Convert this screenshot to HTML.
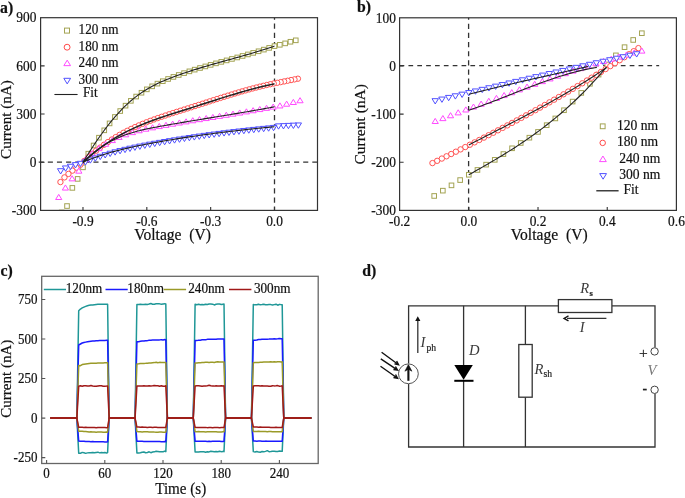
<!DOCTYPE html>
<html><head><meta charset="utf-8"><style>
html,body{margin:0;padding:0;background:#fff;}
body{width:685px;height:498px;overflow:hidden;font-family:"Liberation Serif",serif;}
svg{display:block;filter:blur(0.3px);}
</style></head><body>
<svg width="685" height="498" viewBox="0 0 685 498">
<rect width="685" height="498" fill="#fff"/>
<defs><clipPath id="ca"><rect x="40.6" y="17.7" width="276.9" height="192.7"/></clipPath><clipPath id="cb"><rect x="399.6" y="17.8" width="276.8" height="192.6"/></clipPath></defs>
<g stroke="#333" stroke-width="1.3" fill="none"><path d="M38.7,162.2 H317.5" stroke-dasharray="5.1,4.02"/><path d="M274.5,17.7 V210.4" stroke-dasharray="5.2,3.95" stroke-dashoffset="3.25"/></g>
<g clip-path="url(#ca)"><g fill="#fff" stroke="#a3a352" stroke-width="1"><rect x="293.48" y="38.02" width="4.6" height="4.6"/><rect x="288.16" y="39.46" width="4.6" height="4.6"/><rect x="282.84" y="41.07" width="4.6" height="4.6"/><rect x="277.52" y="42.51" width="4.6" height="4.6"/><rect x="272.2" y="43.8" width="4.6" height="4.6"/><rect x="266.88" y="45.59" width="4.6" height="4.6"/><rect x="261.56" y="47.32" width="4.6" height="4.6"/><rect x="256.24" y="48.98" width="4.6" height="4.6"/><rect x="250.92" y="50.58" width="4.6" height="4.6"/><rect x="245.6" y="52.13" width="4.6" height="4.6"/><rect x="240.28" y="53.65" width="4.6" height="4.6"/><rect x="234.96" y="55.15" width="4.6" height="4.6"/><rect x="229.64" y="56.63" width="4.6" height="4.6"/><rect x="224.32" y="58.1" width="4.6" height="4.6"/><rect x="219" y="59.57" width="4.6" height="4.6"/><rect x="213.68" y="61.06" width="4.6" height="4.6"/><rect x="208.36" y="62.57" width="4.6" height="4.6"/><rect x="203.04" y="64.12" width="4.6" height="4.6"/><rect x="197.72" y="65.7" width="4.6" height="4.6"/><rect x="192.4" y="67.34" width="4.6" height="4.6"/><rect x="187.08" y="69.04" width="4.6" height="4.6"/><rect x="181.76" y="70.82" width="4.6" height="4.6"/><rect x="176.44" y="72.67" width="4.6" height="4.6"/><rect x="171.12" y="74.62" width="4.6" height="4.6"/><rect x="165.8" y="76.68" width="4.6" height="4.6"/><rect x="160.48" y="78.9" width="4.6" height="4.6"/><rect x="155.16" y="81.33" width="4.6" height="4.6"/><rect x="149.84" y="84.03" width="4.6" height="4.6"/><rect x="144.52" y="87.05" width="4.6" height="4.6"/><rect x="139.2" y="90.44" width="4.6" height="4.6"/><rect x="133.88" y="94.25" width="4.6" height="4.6"/><rect x="128.56" y="98.54" width="4.6" height="4.6"/><rect x="123.24" y="103.36" width="4.6" height="4.6"/><rect x="117.92" y="108.74" width="4.6" height="4.6"/><rect x="112.6" y="114.67" width="4.6" height="4.6"/><rect x="107.28" y="121.1" width="4.6" height="4.6"/><rect x="101.96" y="128.02" width="4.6" height="4.6"/><rect x="96.64" y="135.39" width="4.6" height="4.6"/><rect x="91.32" y="143.19" width="4.6" height="4.6"/><rect x="86" y="151.37" width="4.6" height="4.6"/><rect x="80.68" y="165.04" width="4.6" height="4.6"/><rect x="75.36" y="176.6" width="4.6" height="4.6"/><rect x="70.04" y="185.59" width="4.6" height="4.6"/><rect x="64.72" y="203.74" width="4.6" height="4.6"/><rect x="59.4" y="210.16" width="4.6" height="4.6"/></g><g fill="#fff" stroke="#ff4a4a" stroke-width="0.95"><circle cx="297.91" cy="78.7" r="2.7"/><circle cx="294.48" cy="79.38" r="2.7"/><circle cx="291.05" cy="80.06" r="2.7"/><circle cx="287.6" cy="80.75" r="2.7"/><circle cx="284.15" cy="81.43" r="2.7"/><circle cx="280.69" cy="82.12" r="2.7"/><circle cx="277.22" cy="82.81" r="2.7"/><circle cx="273.74" cy="83.5" r="2.7"/><circle cx="270.26" cy="84.23" r="2.7"/><circle cx="266.76" cy="85" r="2.7"/><circle cx="263.26" cy="85.81" r="2.7"/><circle cx="259.75" cy="86.65" r="2.7"/><circle cx="256.22" cy="87.54" r="2.7"/><circle cx="252.69" cy="88.45" r="2.7"/><circle cx="249.16" cy="89.4" r="2.7"/><circle cx="245.61" cy="90.38" r="2.7"/><circle cx="242.05" cy="91.39" r="2.7"/><circle cx="238.49" cy="92.42" r="2.7"/><circle cx="234.91" cy="93.48" r="2.7"/><circle cx="231.33" cy="94.56" r="2.7"/><circle cx="227.73" cy="95.66" r="2.7"/><circle cx="224.13" cy="96.78" r="2.7"/><circle cx="220.52" cy="97.91" r="2.7"/><circle cx="216.9" cy="99.06" r="2.7"/><circle cx="213.27" cy="100.22" r="2.7"/><circle cx="209.64" cy="101.38" r="2.7"/><circle cx="205.99" cy="102.55" r="2.7"/><circle cx="202.33" cy="103.73" r="2.7"/><circle cx="198.67" cy="104.91" r="2.7"/><circle cx="194.99" cy="106.08" r="2.7"/><circle cx="191.31" cy="107.26" r="2.7"/><circle cx="187.62" cy="108.42" r="2.7"/><circle cx="183.92" cy="109.59" r="2.7"/><circle cx="180.21" cy="110.75" r="2.7"/><circle cx="176.49" cy="111.93" r="2.7"/><circle cx="172.76" cy="113.11" r="2.7"/><circle cx="169.02" cy="114.32" r="2.7"/><circle cx="165.27" cy="115.55" r="2.7"/><circle cx="161.51" cy="116.81" r="2.7"/><circle cx="157.74" cy="118.11" r="2.7"/><circle cx="153.97" cy="119.45" r="2.7"/><circle cx="150.18" cy="120.85" r="2.7"/><circle cx="146.39" cy="122.31" r="2.7"/><circle cx="142.58" cy="123.83" r="2.7"/><circle cx="138.77" cy="125.43" r="2.7"/><circle cx="134.94" cy="127.12" r="2.7"/><circle cx="131.11" cy="128.9" r="2.7"/><circle cx="127.27" cy="130.78" r="2.7"/><circle cx="123.41" cy="132.77" r="2.7"/><circle cx="119.55" cy="134.89" r="2.7"/><circle cx="115.68" cy="137.13" r="2.7"/><circle cx="111.8" cy="139.52" r="2.7"/><circle cx="107.91" cy="142.05" r="2.7"/><circle cx="104.01" cy="144.74" r="2.7"/><circle cx="100.09" cy="147.59" r="2.7"/><circle cx="96.17" cy="150.63" r="2.7"/><circle cx="92.24" cy="153.85" r="2.7"/><circle cx="88.3" cy="157.26" r="2.7"/><circle cx="84.35" cy="160.89" r="2.7"/><circle cx="80.39" cy="164.74" r="2.7"/><circle cx="76.42" cy="167.63" r="2.7"/><circle cx="72.44" cy="170.63" r="2.7"/><circle cx="68.45" cy="173.93" r="2.7"/><circle cx="64.45" cy="177.39" r="2.7"/><circle cx="60.44" cy="182.05" r="2.7"/></g><g fill="#fff" stroke="#ff4aff" stroke-width="1"><path d="M300.04,97.66 L303.14,102.76 L296.94,102.76Z"/><path d="M293.33,99.39 L296.43,104.49 L290.23,104.49Z"/><path d="M286.63,101.12 L289.73,106.22 L283.53,106.22Z"/><path d="M279.93,102.85 L283.03,107.95 L276.83,107.95Z"/><path d="M273.22,104 L276.32,109.1 L270.12,109.1Z"/><path d="M266.52,105.25 L269.62,110.35 L263.42,110.35Z"/><path d="M259.82,106.47 L262.92,111.57 L256.72,111.57Z"/><path d="M253.11,107.65 L256.21,112.75 L250.01,112.75Z"/><path d="M246.41,108.81 L249.51,113.91 L243.31,113.91Z"/><path d="M239.71,109.95 L242.81,115.05 L236.61,115.05Z"/><path d="M233,111.07 L236.1,116.17 L229.9,116.17Z"/><path d="M226.3,112.18 L229.4,117.28 L223.2,117.28Z"/><path d="M219.6,113.28 L222.7,118.38 L216.5,118.38Z"/><path d="M212.89,114.38 L215.99,119.48 L209.79,119.48Z"/><path d="M206.19,115.47 L209.29,120.57 L203.09,120.57Z"/><path d="M199.49,116.57 L202.59,121.67 L196.39,121.67Z"/><path d="M192.78,117.68 L195.88,122.78 L189.68,122.78Z"/><path d="M186.08,118.8 L189.18,123.9 L182.98,123.9Z"/><path d="M179.38,119.93 L182.48,125.03 L176.28,125.03Z"/><path d="M172.68,121.09 L175.78,126.19 L169.58,126.19Z"/><path d="M165.97,122.27 L169.07,127.37 L162.87,127.37Z"/><path d="M159.27,123.47 L162.37,128.57 L156.17,128.57Z"/><path d="M152.57,124.73 L155.67,129.83 L149.47,129.83Z"/><path d="M145.86,126.11 L148.96,131.21 L142.76,131.21Z"/><path d="M139.16,127.68 L142.26,132.78 L136.06,132.78Z"/><path d="M132.46,129.53 L135.56,134.63 L129.36,134.63Z"/><path d="M125.75,131.72 L128.85,136.82 L122.65,136.82Z"/><path d="M119.05,134.35 L122.15,139.45 L115.95,139.45Z"/><path d="M112.35,137.49 L115.45,142.59 L109.25,142.59Z"/><path d="M105.64,141.21 L108.74,146.31 L102.54,146.31Z"/><path d="M98.94,145.59 L102.04,150.69 L95.84,150.69Z"/><path d="M92.24,150.71 L95.34,155.81 L89.14,155.81Z"/><path d="M85.53,156.66 L88.63,161.76 L82.43,161.76Z"/><path d="M78.83,168.08 L81.93,173.18 L75.73,173.18Z"/><path d="M72.13,175.75 L75.23,180.85 L69.03,180.85Z"/><path d="M65.42,184.95 L68.52,190.05 L62.32,190.05Z"/><path d="M58.72,194.4 L61.82,199.5 L55.62,199.5Z"/></g><g fill="#fff" stroke="#5050ff" stroke-width="1"><path d="M298.33,128.24 L301.53,122.94 L295.13,122.94Z"/><path d="M293.38,128.47 L296.58,123.17 L290.18,123.17Z"/><path d="M288.43,128.7 L291.63,123.4 L285.23,123.4Z"/><path d="M283.48,128.94 L286.68,123.64 L280.28,123.64Z"/><path d="M278.53,129.17 L281.73,123.87 L275.33,123.87Z"/><path d="M273.57,130.73 L276.77,125.43 L270.37,125.43Z"/><path d="M268.62,131.21 L271.82,125.91 L265.42,125.91Z"/><path d="M263.67,131.69 L266.87,126.39 L260.47,126.39Z"/><path d="M258.72,132.19 L261.92,126.89 L255.52,126.89Z"/><path d="M253.77,132.71 L256.97,127.41 L250.57,127.41Z"/><path d="M248.82,133.23 L252.02,127.93 L245.62,127.93Z"/><path d="M243.86,133.77 L247.06,128.47 L240.66,128.47Z"/><path d="M238.91,134.33 L242.11,129.03 L235.71,129.03Z"/><path d="M233.96,134.9 L237.16,129.6 L230.76,129.6Z"/><path d="M229.01,135.49 L232.21,130.19 L225.81,130.19Z"/><path d="M224.06,136.09 L227.26,130.79 L220.86,130.79Z"/><path d="M219.1,136.71 L222.3,131.41 L215.9,131.41Z"/><path d="M214.15,137.34 L217.35,132.04 L210.95,132.04Z"/><path d="M209.2,138 L212.4,132.7 L206,132.7Z"/><path d="M204.25,138.67 L207.45,133.37 L201.05,133.37Z"/><path d="M199.3,139.37 L202.5,134.07 L196.1,134.07Z"/><path d="M194.34,140.08 L197.54,134.78 L191.14,134.78Z"/><path d="M189.39,140.81 L192.59,135.51 L186.19,135.51Z"/><path d="M184.44,141.56 L187.64,136.26 L181.24,136.26Z"/><path d="M179.49,142.34 L182.69,137.04 L176.29,137.04Z"/><path d="M174.54,143.14 L177.74,137.84 L171.34,137.84Z"/><path d="M169.59,143.96 L172.79,138.66 L166.39,138.66Z"/><path d="M164.63,144.8 L167.83,139.5 L161.43,139.5Z"/><path d="M159.68,145.67 L162.88,140.37 L156.48,140.37Z"/><path d="M154.73,146.56 L157.93,141.26 L151.53,141.26Z"/><path d="M149.78,147.47 L152.98,142.17 L146.58,142.17Z"/><path d="M144.83,148.42 L148.03,143.12 L141.63,143.12Z"/><path d="M139.87,149.4 L143.07,144.1 L136.67,144.1Z"/><path d="M134.92,150.42 L138.12,145.12 L131.72,145.12Z"/><path d="M129.97,151.5 L133.17,146.2 L126.77,146.2Z"/><path d="M125.02,152.64 L128.22,147.34 L121.82,147.34Z"/><path d="M120.07,153.85 L123.27,148.55 L116.87,148.55Z"/><path d="M115.11,155.14 L118.31,149.84 L111.91,149.84Z"/><path d="M110.16,156.53 L113.36,151.23 L106.96,151.23Z"/><path d="M105.21,158.01 L108.41,152.71 L102.01,152.71Z"/><path d="M100.26,159.6 L103.46,154.3 L97.06,154.3Z"/><path d="M95.31,161.31 L98.51,156.01 L92.11,156.01Z"/><path d="M90.36,163.14 L93.56,157.84 L87.16,157.84Z"/><path d="M85.4,165.11 L88.6,159.81 L82.2,159.81Z"/><path d="M80.45,166.61 L83.65,161.31 L77.25,161.31Z"/><path d="M75.5,167.91 L78.7,162.61 L72.3,162.61Z"/><path d="M70.55,169.54 L73.75,164.24 L67.35,164.24Z"/><path d="M65.6,171.25 L68.8,165.95 L62.4,165.95Z"/><path d="M60.64,174 L63.84,168.7 L57.44,168.7Z"/></g></g>
<g fill="none" stroke="#222" stroke-width="1.1">
<path d="M82.98,162.22 L84.59,159.6 L86.2,157.01 L87.81,154.45 L89.42,151.92 L91.03,149.43 L92.64,146.97 L94.25,144.55 L95.86,142.16 L97.46,139.81 L99.07,137.5 L100.68,135.23 L102.29,133 L103.9,130.8 L105.51,128.65 L107.12,126.54 L108.73,124.48 L110.34,122.45 L111.95,120.47 L113.56,118.54 L115.17,116.65 L116.78,114.81 L118.39,113.02 L120,111.28 L121.61,109.58 L123.22,107.94 L124.82,106.35 L126.43,104.81 L128.04,103.32 L129.65,101.88 L131.26,100.5 L132.87,99.16 L134.48,97.87 L136.09,96.62 L137.7,95.41 L139.31,94.25 L140.92,93.13 L142.53,92.05 L144.14,91.01 L145.75,90 L147.36,89.03 L148.97,88.09 L150.58,87.18 L152.18,86.31 L153.79,85.46 L155.4,84.64 L157.01,83.85 L158.62,83.08 L160.23,82.34 L161.84,81.61 L163.45,80.91 L165.06,80.23 L166.67,79.56 L168.28,78.91 L169.89,78.27 L171.5,77.65 L173.11,77.04 L174.72,76.44 L176.33,75.85 L177.94,75.26 L179.54,74.69 L181.15,74.12 L182.76,73.56 L184.37,73.01 L185.98,72.47 L187.59,71.93 L189.2,71.4 L190.81,70.88 L192.42,70.36 L194.03,69.85 L195.64,69.35 L197.25,68.85 L198.86,68.36 L200.47,67.87 L202.08,67.38 L203.69,66.9 L205.3,66.43 L206.9,65.96 L208.51,65.49 L210.12,65.03 L211.73,64.56 L213.34,64.11 L214.95,63.65 L216.56,63.2 L218.17,62.75 L219.78,62.3 L221.39,61.85 L223,61.4 L224.61,60.95 L226.22,60.51 L227.83,60.06 L229.44,59.62 L231.05,59.17 L232.66,58.73 L234.26,58.28 L235.87,57.83 L237.48,57.39 L239.09,56.94 L240.7,56.48 L242.31,56.03 L243.92,55.57 L245.53,55.11 L247.14,54.65 L248.75,54.19 L250.36,53.72 L251.97,53.25 L253.58,52.77 L255.19,52.29 L256.8,51.81 L258.41,51.32 L260.02,50.82 L261.62,50.32 L263.23,49.82 L264.84,49.3 L266.45,48.79 L268.06,48.26 L269.67,47.73 L271.28,47.19 L272.89,46.65 L274.5,46.1"/>
<path d="M82.98,162.69 L84.59,161.16 L86.2,159.67 L87.81,158.2 L89.42,156.78 L91.03,155.38 L92.64,154.01 L94.25,152.68 L95.86,151.38 L97.46,150.11 L99.07,148.87 L100.68,147.65 L102.29,146.47 L103.9,145.31 L105.51,144.18 L107.12,143.08 L108.73,142 L110.34,140.95 L111.95,139.92 L113.56,138.92 L115.17,137.94 L116.78,136.98 L118.39,136.05 L120,135.14 L121.61,134.25 L123.22,133.38 L124.82,132.53 L126.43,131.7 L128.04,130.89 L129.65,130.1 L131.26,129.32 L132.87,128.57 L134.48,127.83 L136.09,127.1 L137.7,126.39 L139.31,125.7 L140.92,125.02 L142.53,124.35 L144.14,123.7 L145.75,123.06 L147.36,122.43 L148.97,121.81 L150.58,121.2 L152.18,120.61 L153.79,120.02 L155.4,119.44 L157.01,118.87 L158.62,118.31 L160.23,117.75 L161.84,117.2 L163.45,116.66 L165.06,116.12 L166.67,115.59 L168.28,115.06 L169.89,114.54 L171.5,114.02 L173.11,113.5 L174.72,112.99 L176.33,112.48 L177.94,111.97 L179.54,111.46 L181.15,110.96 L182.76,110.45 L184.37,109.94 L185.98,109.44 L187.59,108.93 L189.2,108.42 L190.81,107.92 L192.42,107.4 L194.03,106.89 L195.64,106.38 L197.25,105.86 L198.86,105.35 L200.47,104.83 L202.08,104.31 L203.69,103.8 L205.3,103.28 L206.9,102.76 L208.51,102.24 L210.12,101.73 L211.73,101.21 L213.34,100.7 L214.95,100.18 L216.56,99.67 L218.17,99.16 L219.78,98.65 L221.39,98.14 L223,97.63 L224.61,97.13 L226.22,96.63 L227.83,96.13 L229.44,95.64 L231.05,95.15 L232.66,94.66 L234.26,94.18 L235.87,93.7 L237.48,93.22 L239.09,92.75 L240.7,92.28 L242.31,91.82 L243.92,91.36 L245.53,90.9 L247.14,90.46 L248.75,90.01 L250.36,89.58 L251.97,89.15 L253.58,88.72 L255.19,88.3 L256.8,87.89 L258.41,87.49 L260.02,87.09 L261.62,86.7 L263.23,86.31 L264.84,85.94 L266.45,85.57 L268.06,85.21 L269.67,84.86 L271.28,84.51 L272.89,84.18 L274.5,83.85" stroke-width="1.5"/>
<path d="M82.98,162.18 L84.59,160.59 L86.2,159.06 L87.81,157.57 L89.42,156.14 L91.03,154.75 L92.64,153.42 L94.25,152.13 L95.86,150.88 L97.46,149.68 L99.07,148.53 L100.68,147.41 L102.29,146.34 L103.9,145.31 L105.51,144.32 L107.12,143.37 L108.73,142.45 L110.34,141.57 L111.95,140.72 L113.56,139.91 L115.17,139.13 L116.78,138.39 L118.39,137.67 L120,136.98 L121.61,136.33 L123.22,135.7 L124.82,135.09 L126.43,134.51 L128.04,133.96 L129.65,133.43 L131.26,132.92 L132.87,132.43 L134.48,131.97 L136.09,131.52 L137.7,131.09 L139.31,130.67 L140.92,130.28 L142.53,129.89 L144.14,129.52 L145.75,129.16 L147.36,128.82 L148.97,128.48 L150.58,128.16 L152.18,127.84 L153.79,127.53 L155.4,127.22 L157.01,126.92 L158.62,126.62 L160.23,126.33 L161.84,126.04 L163.45,125.75 L165.06,125.46 L166.67,125.17 L168.28,124.89 L169.89,124.61 L171.5,124.32 L173.11,124.04 L174.72,123.76 L176.33,123.49 L177.94,123.21 L179.54,122.93 L181.15,122.66 L182.76,122.39 L184.37,122.12 L185.98,121.84 L187.59,121.57 L189.2,121.31 L190.81,121.04 L192.42,120.77 L194.03,120.5 L195.64,120.24 L197.25,119.97 L198.86,119.71 L200.47,119.44 L202.08,119.18 L203.69,118.91 L205.3,118.65 L206.9,118.39 L208.51,118.12 L210.12,117.86 L211.73,117.6 L213.34,117.34 L214.95,117.07 L216.56,116.81 L218.17,116.55 L219.78,116.28 L221.39,116.02 L223,115.76 L224.61,115.49 L226.22,115.23 L227.83,114.96 L229.44,114.7 L231.05,114.43 L232.66,114.16 L234.26,113.89 L235.87,113.63 L237.48,113.36 L239.09,113.09 L240.7,112.81 L242.31,112.54 L243.92,112.27 L245.53,111.99 L247.14,111.72 L248.75,111.44 L250.36,111.16 L251.97,110.88 L253.58,110.6 L255.19,110.32 L256.8,110.04 L258.41,109.75 L260.02,109.46 L261.62,109.17 L263.23,108.88 L264.84,108.59 L266.45,108.3 L268.06,108 L269.67,107.7 L271.28,107.4 L272.89,107.1 L274.5,106.79"/>
<path d="M82.98,162.19 L84.59,161.51 L86.2,160.85 L87.81,160.2 L89.42,159.57 L91.03,158.95 L92.64,158.34 L94.25,157.75 L95.86,157.18 L97.46,156.61 L99.07,156.06 L100.68,155.52 L102.29,155 L103.9,154.48 L105.51,153.98 L107.12,153.49 L108.73,153.01 L110.34,152.54 L111.95,152.08 L113.56,151.63 L115.17,151.2 L116.78,150.77 L118.39,150.35 L120,149.93 L121.61,149.53 L123.22,149.14 L124.82,148.75 L126.43,148.37 L128.04,148 L129.65,147.64 L131.26,147.28 L132.87,146.93 L134.48,146.58 L136.09,146.24 L137.7,145.91 L139.31,145.58 L140.92,145.25 L142.53,144.93 L144.14,144.62 L145.75,144.31 L147.36,144 L148.97,143.69 L150.58,143.39 L152.18,143.09 L153.79,142.8 L155.4,142.5 L157.01,142.21 L158.62,141.92 L160.23,141.64 L161.84,141.35 L163.45,141.07 L165.06,140.79 L166.67,140.52 L168.28,140.24 L169.89,139.97 L171.5,139.7 L173.11,139.44 L174.72,139.17 L176.33,138.91 L177.94,138.65 L179.54,138.4 L181.15,138.14 L182.76,137.89 L184.37,137.64 L185.98,137.39 L187.59,137.15 L189.2,136.91 L190.81,136.66 L192.42,136.43 L194.03,136.19 L195.64,135.96 L197.25,135.72 L198.86,135.49 L200.47,135.27 L202.08,135.04 L203.69,134.82 L205.3,134.59 L206.9,134.37 L208.51,134.16 L210.12,133.94 L211.73,133.73 L213.34,133.52 L214.95,133.31 L216.56,133.1 L218.17,132.89 L219.78,132.69 L221.39,132.48 L223,132.28 L224.61,132.09 L226.22,131.89 L227.83,131.69 L229.44,131.5 L231.05,131.31 L232.66,131.12 L234.26,130.93 L235.87,130.74 L237.48,130.56 L239.09,130.37 L240.7,130.19 L242.31,130.01 L243.92,129.83 L245.53,129.66 L247.14,129.48 L248.75,129.31 L250.36,129.13 L251.97,128.96 L253.58,128.79 L255.19,128.62 L256.8,128.46 L258.41,128.29 L260.02,128.13 L261.62,127.96 L263.23,127.8 L264.84,127.64 L266.45,127.48 L268.06,127.33 L269.67,127.17 L271.28,127.01 L272.89,126.86 L274.5,126.71"/>
</g>
<rect x="40.6" y="17.7" width="276.9" height="192.7" fill="none" stroke="#333" stroke-width="1.2"/>
<path d="M82.98,210.4 v-3.5 M146.82,210.4 v-3.5 M210.66,210.4 v-3.5 M274.5,210.4 v-3.5 M40.6,65.85 h4 M40.6,114.02 h4 M40.6,162.2 h4" stroke="#333" stroke-width="1.1" fill="none"/>
<text font-family="Liberation Serif, serif" font-size="13.4" fill="#111" stroke="#111" stroke-width="0.2" text-anchor="end" transform="translate(36.4,22.37) scale(1.0,1.08)" xml:space="preserve">900</text>
<text font-family="Liberation Serif, serif" font-size="13.4" fill="#111" stroke="#111" stroke-width="0.2" text-anchor="end" transform="translate(36.4,70.55) scale(1.0,1.08)" xml:space="preserve">600</text>
<text font-family="Liberation Serif, serif" font-size="13.4" fill="#111" stroke="#111" stroke-width="0.2" text-anchor="end" transform="translate(36.4,118.72) scale(1.0,1.08)" xml:space="preserve">300</text>
<text font-family="Liberation Serif, serif" font-size="13.4" fill="#111" stroke="#111" stroke-width="0.2" text-anchor="end" transform="translate(36.4,166.9) scale(1.0,1.08)" xml:space="preserve">0</text>
<text font-family="Liberation Serif, serif" font-size="13.4" fill="#111" stroke="#111" stroke-width="0.2" text-anchor="end" transform="translate(36.4,215.07) scale(1.0,1.08)" xml:space="preserve">-300</text>
<text font-family="Liberation Serif, serif" font-size="13.4" fill="#111" stroke="#111" stroke-width="0.2" text-anchor="middle" transform="translate(82.98,226) scale(1.0,1.08)" xml:space="preserve">-0.9</text>
<text font-family="Liberation Serif, serif" font-size="13.4" fill="#111" stroke="#111" stroke-width="0.2" text-anchor="middle" transform="translate(146.82,226) scale(1.0,1.08)" xml:space="preserve">-0.6</text>
<text font-family="Liberation Serif, serif" font-size="13.4" fill="#111" stroke="#111" stroke-width="0.2" text-anchor="middle" transform="translate(210.66,226) scale(1.0,1.08)" xml:space="preserve">-0.3</text>
<text font-family="Liberation Serif, serif" font-size="13.4" fill="#111" stroke="#111" stroke-width="0.2" text-anchor="middle" transform="translate(274.5,226) scale(1.0,1.08)" xml:space="preserve">0.0</text>
<text font-family="Liberation Serif, serif" font-size="15.6" fill="#111" stroke="#111" stroke-width="0.2" transform="translate(134.2,240.3) scale(1.0,1.04)" xml:space="preserve">Voltage  (V)</text>
<text font-family="Liberation Serif, serif" font-size="15.2" fill="#111" stroke="#111" stroke-width="0.2" text-anchor="middle" transform="translate(11.2,119.5) rotate(-90)" xml:space="preserve">Current (nA)</text>
<text font-family="Liberation Serif, serif" font-size="15.8" fill="#111" stroke="#111" stroke-width="0.2" font-weight="bold" transform="translate(0,13.2) scale(1.0,1.05)" xml:space="preserve">a)</text>
<g fill="none" stroke-width="1"><g stroke="#a3a352"><rect x="64.5" y="28.1" width="5" height="5"/></g><g stroke="#ff4a4a"><circle cx="67.1" cy="47.2" r="2.95"/></g><g stroke="#ff4aff"><path d="M67.2,60.15 L70.55,65.65 L63.85,65.65Z"/></g><g stroke="#5050ff"><path d="M67.2,83.9 L70.6,78.3 L63.8,78.3Z"/></g></g><path d="M54.4,94.5 H77.6" stroke="#222" stroke-width="1.1"/>
<text font-family="Liberation Serif, serif" font-size="13.2" fill="#111" stroke="#111" stroke-width="0.2" transform="translate(78.6,34.1) scale(1.0,1.1)" xml:space="preserve">120 nm</text>
<text font-family="Liberation Serif, serif" font-size="13.2" fill="#111" stroke="#111" stroke-width="0.2" transform="translate(78.6,50.5) scale(1.0,1.1)" xml:space="preserve">180 nm</text>
<text font-family="Liberation Serif, serif" font-size="13.2" fill="#111" stroke="#111" stroke-width="0.2" transform="translate(78.6,67.3) scale(1.0,1.1)" xml:space="preserve">240 nm</text>
<text font-family="Liberation Serif, serif" font-size="13.2" fill="#111" stroke="#111" stroke-width="0.2" transform="translate(78.6,83.6) scale(1.0,1.1)" xml:space="preserve">300 nm</text>
<text font-family="Liberation Serif, serif" font-size="13.2" fill="#111" stroke="#111" stroke-width="0.2" transform="translate(83,97.4) scale(1.0,1.1)" xml:space="preserve">Fit</text>
<g stroke="#333" stroke-width="1.3" fill="none"><path d="M399.6,65.65 H659.15" stroke-dasharray="4.7,4.15"/><path d="M468.6,17.8 V210.4" stroke-dasharray="5.2,3.95" stroke-dashoffset="3.25"/></g>
<g clip-path="url(#cb)"><g fill="#fff" stroke="#a3a352" stroke-width="1"><rect x="639.55" y="30.91" width="4.6" height="4.6"/><rect x="630.9" y="37.65" width="4.6" height="4.6"/><rect x="622.25" y="44.87" width="4.6" height="4.6"/><rect x="613.59" y="53.06" width="4.6" height="4.6"/><rect x="604.94" y="62.21" width="4.6" height="4.6"/><rect x="596.29" y="72.32" width="4.6" height="4.6"/><rect x="587.63" y="81.47" width="4.6" height="4.6"/><rect x="578.98" y="90.61" width="4.6" height="4.6"/><rect x="570.33" y="99.28" width="4.6" height="4.6"/><rect x="561.68" y="107.95" width="4.6" height="4.6"/><rect x="553.03" y="116.13" width="4.6" height="4.6"/><rect x="544.37" y="122.87" width="4.6" height="4.6"/><rect x="535.72" y="129.62" width="4.6" height="4.6"/><rect x="527.07" y="135.39" width="4.6" height="4.6"/><rect x="518.42" y="140.69" width="4.6" height="4.6"/><rect x="509.76" y="145.99" width="4.6" height="4.6"/><rect x="501.11" y="151.76" width="4.6" height="4.6"/><rect x="492.46" y="157.54" width="4.6" height="4.6"/><rect x="483.81" y="162.36" width="4.6" height="4.6"/><rect x="475.15" y="167.65" width="4.6" height="4.6"/><rect x="466.5" y="172.47" width="4.6" height="4.6"/><rect x="457.85" y="177.77" width="4.6" height="4.6"/><rect x="449.19" y="183.06" width="4.6" height="4.6"/><rect x="440.54" y="188.36" width="4.6" height="4.6"/><rect x="431.89" y="193.65" width="4.6" height="4.6"/></g><g fill="#fff" stroke="#ff4a4a" stroke-width="0.95"><circle cx="638.39" cy="48.13" r="2.7"/><circle cx="633.71" cy="51.19" r="2.7"/><circle cx="629.03" cy="54.23" r="2.7"/><circle cx="624.35" cy="57.24" r="2.7"/><circle cx="619.67" cy="60.23" r="2.7"/><circle cx="614.99" cy="63.2" r="2.7"/><circle cx="610.31" cy="66.14" r="2.7"/><circle cx="605.63" cy="69.06" r="2.7"/><circle cx="600.95" cy="71.95" r="2.7"/><circle cx="596.27" cy="74.83" r="2.7"/><circle cx="591.59" cy="77.67" r="2.7"/><circle cx="586.91" cy="80.5" r="2.7"/><circle cx="582.23" cy="83.31" r="2.7"/><circle cx="577.55" cy="86.09" r="2.7"/><circle cx="572.87" cy="88.85" r="2.7"/><circle cx="568.19" cy="91.59" r="2.7"/><circle cx="563.51" cy="94.31" r="2.7"/><circle cx="558.83" cy="97.01" r="2.7"/><circle cx="554.15" cy="99.69" r="2.7"/><circle cx="549.46" cy="102.34" r="2.7"/><circle cx="544.78" cy="104.98" r="2.7"/><circle cx="540.1" cy="107.6" r="2.7"/><circle cx="535.42" cy="110.2" r="2.7"/><circle cx="530.74" cy="112.78" r="2.7"/><circle cx="526.06" cy="115.34" r="2.7"/><circle cx="521.38" cy="117.88" r="2.7"/><circle cx="516.7" cy="120.41" r="2.7"/><circle cx="512.02" cy="122.91" r="2.7"/><circle cx="507.34" cy="125.4" r="2.7"/><circle cx="502.66" cy="127.88" r="2.7"/><circle cx="497.98" cy="130.33" r="2.7"/><circle cx="493.3" cy="132.77" r="2.7"/><circle cx="488.62" cy="135.19" r="2.7"/><circle cx="483.94" cy="137.6" r="2.7"/><circle cx="479.26" cy="139.99" r="2.7"/><circle cx="474.58" cy="142.36" r="2.7"/><circle cx="469.9" cy="144.72" r="2.7"/><circle cx="465.22" cy="147.06" r="2.7"/><circle cx="460.54" cy="149.39" r="2.7"/><circle cx="455.86" cy="151.71" r="2.7"/><circle cx="451.18" cy="154.01" r="2.7"/><circle cx="446.5" cy="156.3" r="2.7"/><circle cx="441.82" cy="158.57" r="2.7"/><circle cx="437.14" cy="160.83" r="2.7"/><circle cx="432.46" cy="163.08" r="2.7"/></g><g fill="#fff" stroke="#ff4aff" stroke-width="1"><path d="M641.85,48 L644.95,53.1 L638.75,53.1Z"/><path d="M634.2,49.91 L637.3,55.01 L631.1,55.01Z"/><path d="M626.54,51.92 L629.64,57.02 L623.44,57.02Z"/><path d="M618.89,54 L621.99,59.1 L615.79,59.1Z"/><path d="M611.24,56.16 L614.34,61.26 L608.14,61.26Z"/><path d="M603.59,58.4 L606.69,63.5 L600.49,63.5Z"/><path d="M595.93,60.71 L599.03,65.81 L592.83,65.81Z"/><path d="M588.28,63.09 L591.38,68.19 L585.18,68.19Z"/><path d="M580.63,65.53 L583.73,70.63 L577.53,70.63Z"/><path d="M572.98,68.03 L576.08,73.13 L569.88,73.13Z"/><path d="M565.32,70.58 L568.42,75.68 L562.22,75.68Z"/><path d="M557.67,73.19 L560.77,78.29 L554.57,78.29Z"/><path d="M550.02,75.84 L553.12,80.94 L546.92,80.94Z"/><path d="M542.37,78.53 L545.47,83.63 L539.27,83.63Z"/><path d="M534.71,81.26 L537.81,86.36 L531.61,86.36Z"/><path d="M527.06,84.03 L530.16,89.13 L523.96,89.13Z"/><path d="M519.41,86.82 L522.51,91.92 L516.31,91.92Z"/><path d="M511.75,89.64 L514.85,94.74 L508.65,94.74Z"/><path d="M504.1,92.49 L507.2,97.59 L501,97.59Z"/><path d="M496.45,95.35 L499.55,100.45 L493.35,100.45Z"/><path d="M488.8,98.23 L491.9,103.33 L485.7,103.33Z"/><path d="M481.14,101.11 L484.24,106.21 L478.04,106.21Z"/><path d="M473.49,104 L476.59,109.1 L470.39,109.1Z"/><path d="M465.84,106.89 L468.94,111.99 L462.74,111.99Z"/><path d="M458.19,109.78 L461.29,114.88 L455.09,114.88Z"/><path d="M450.53,112.67 L453.63,117.77 L447.43,117.77Z"/><path d="M442.88,115.54 L445.98,120.64 L439.78,120.64Z"/><path d="M435.23,118.39 L438.33,123.49 L432.13,123.49Z"/></g><g fill="#fff" stroke="#5050ff" stroke-width="1"><path d="M636.66,57.04 L639.86,51.74 L633.46,51.74Z"/><path d="M629.94,58.53 L633.14,53.23 L626.74,53.23Z"/><path d="M623.23,60.03 L626.43,54.73 L620.03,54.73Z"/><path d="M616.52,61.53 L619.72,56.23 L613.32,56.23Z"/><path d="M609.8,63.03 L613,57.73 L606.6,57.73Z"/><path d="M603.09,64.55 L606.29,59.25 L599.89,59.25Z"/><path d="M596.37,66.06 L599.57,60.76 L593.17,60.76Z"/><path d="M589.66,67.59 L592.86,62.29 L586.46,62.29Z"/><path d="M582.94,69.11 L586.14,63.81 L579.74,63.81Z"/><path d="M576.23,70.65 L579.43,65.35 L573.03,65.35Z"/><path d="M569.52,72.18 L572.72,66.88 L566.32,66.88Z"/><path d="M562.8,73.73 L566,68.43 L559.6,68.43Z"/><path d="M556.09,75.28 L559.29,69.98 L552.89,69.98Z"/><path d="M549.37,76.83 L552.57,71.53 L546.17,71.53Z"/><path d="M542.66,78.39 L545.86,73.09 L539.46,73.09Z"/><path d="M535.94,79.95 L539.14,74.65 L532.74,74.65Z"/><path d="M529.23,81.52 L532.43,76.22 L526.03,76.22Z"/><path d="M522.51,83.1 L525.71,77.8 L519.31,77.8Z"/><path d="M515.8,84.68 L519,79.38 L512.6,79.38Z"/><path d="M509.09,86.26 L512.29,80.96 L505.89,80.96Z"/><path d="M502.37,87.85 L505.57,82.55 L499.17,82.55Z"/><path d="M495.66,89.44 L498.86,84.14 L492.46,84.14Z"/><path d="M488.94,91.04 L492.14,85.74 L485.74,85.74Z"/><path d="M482.23,92.64 L485.43,87.34 L479.03,87.34Z"/><path d="M475.51,94.25 L478.71,88.95 L472.31,88.95Z"/><path d="M468.8,95.86 L472,90.56 L465.6,90.56Z"/><path d="M462.09,97.47 L465.29,92.17 L458.89,92.17Z"/><path d="M455.37,99.09 L458.57,93.79 L452.17,93.79Z"/><path d="M448.66,100.72 L451.86,95.42 L445.46,95.42Z"/><path d="M441.94,102.35 L445.14,97.05 L438.74,97.05Z"/><path d="M435.23,103.98 L438.43,98.68 L432.03,98.68Z"/></g></g>
<g fill="none" stroke="#222" stroke-width="1.1">
<path d="M468.8,174.77 L471.13,173.46 L473.46,172.16 L475.79,170.84 L478.12,169.53 L480.44,168.2 L482.77,166.88 L485.1,165.54 L487.43,164.2 L489.76,162.84 L492.09,161.48 L494.42,160.11 L496.75,158.73 L499.07,157.33 L501.4,155.92 L503.73,154.5 L506.06,153.07 L508.39,151.62 L510.72,150.15 L513.05,148.67 L515.38,147.17 L517.71,145.66 L520.03,144.12 L522.36,142.57 L524.69,141 L527.02,139.4 L529.35,137.79 L531.68,136.15 L534.01,134.49 L536.34,132.8 L538.67,131.09 L540.99,129.35 L543.32,127.59 L545.65,125.8 L547.98,123.99 L550.31,122.14 L552.64,120.27 L554.97,118.37 L557.3,116.43 L559.62,114.47 L561.95,112.47 L564.28,110.44 L566.61,108.37 L568.94,106.27 L571.27,104.14 L573.6,101.97 L575.93,99.76 L578.26,97.52 L580.58,95.24 L582.91,92.92 L585.24,90.55 L587.57,88.15 L589.9,85.71 L592.23,83.23 L594.56,80.7 L596.89,78.13 L599.22,75.51 L601.54,72.85 L603.87,70.14 L606.2,67.39"/>
<path d="M468.8,144.92 L471.14,143.71 L473.48,142.52 L475.82,141.32 L478.16,140.12 L480.5,138.93 L482.84,137.73 L485.18,136.53 L487.52,135.34 L489.87,134.14 L492.21,132.95 L494.55,131.75 L496.89,130.55 L499.23,129.35 L501.57,128.15 L503.91,126.95 L506.25,125.74 L508.59,124.53 L510.93,123.32 L513.27,122.1 L515.61,120.88 L517.95,119.66 L520.29,118.43 L522.63,117.2 L524.97,115.96 L527.31,114.72 L529.65,113.47 L532,112.22 L534.34,110.96 L536.68,109.7 L539.02,108.43 L541.36,107.15 L543.7,105.86 L546.04,104.57 L548.38,103.27 L550.72,101.96 L553.06,100.64 L555.4,99.32 L557.74,97.98 L560.08,96.64 L562.42,95.29 L564.76,93.92 L567.1,92.55 L569.44,91.17 L571.79,89.77 L574.13,88.37 L576.47,86.95 L578.81,85.53 L581.15,84.09 L583.49,82.64 L585.83,81.17 L588.17,79.7 L590.51,78.21 L592.85,76.7 L595.19,75.19 L597.53,73.66 L599.87,72.11 L602.21,70.55 L604.55,68.98 L606.89,67.39"/>
<path d="M468.8,110.25 L470.97,109.51 L473.14,108.76 L475.31,108 L477.48,107.23 L479.65,106.44 L481.82,105.65 L483.99,104.85 L486.16,104.04 L488.33,103.23 L490.5,102.4 L492.68,101.57 L494.85,100.73 L497.02,99.89 L499.19,99.05 L501.36,98.2 L503.53,97.35 L505.7,96.49 L507.87,95.64 L510.04,94.78 L512.21,93.92 L514.38,93.07 L516.55,92.21 L518.72,91.36 L520.89,90.51 L523.06,89.66 L525.23,88.81 L527.4,87.97 L529.57,87.14 L531.74,86.31 L533.91,85.49 L536.08,84.67 L538.25,83.86 L540.43,83.06 L542.6,82.27 L544.77,81.49 L546.94,80.72 L549.11,79.96 L551.28,79.21 L553.45,78.48 L555.62,77.75 L557.79,77.04 L559.96,76.35 L562.13,75.67 L564.3,75.01 L566.47,74.36 L568.64,73.73 L570.81,73.12 L572.98,72.52 L575.15,71.95 L577.32,71.39 L579.49,70.86 L581.66,70.34 L583.83,69.85 L586,69.38 L588.18,68.94 L590.35,68.51 L592.52,68.11 L594.69,67.74 L596.86,67.39"/>
<path d="M468.8,94.36 L470.82,93.83 L472.85,93.31 L474.87,92.79 L476.9,92.27 L478.92,91.75 L480.94,91.24 L482.97,90.74 L484.99,90.23 L487.01,89.73 L489.04,89.23 L491.06,88.74 L493.09,88.25 L495.11,87.76 L497.13,87.27 L499.16,86.78 L501.18,86.3 L503.2,85.82 L505.23,85.34 L507.25,84.87 L509.28,84.39 L511.3,83.92 L513.32,83.45 L515.35,82.98 L517.37,82.51 L519.4,82.05 L521.42,81.58 L523.44,81.12 L525.47,80.66 L527.49,80.2 L529.51,79.74 L531.54,79.28 L533.56,78.82 L535.59,78.36 L537.61,77.91 L539.63,77.45 L541.66,77 L543.68,76.54 L545.7,76.09 L547.73,75.63 L549.75,75.18 L551.78,74.72 L553.8,74.27 L555.82,73.81 L557.85,73.36 L559.87,72.9 L561.9,72.45 L563.92,71.99 L565.94,71.53 L567.97,71.07 L569.99,70.61 L572.01,70.16 L574.04,69.69 L576.06,69.23 L578.09,68.77 L580.11,68.3 L582.13,67.84 L584.16,67.37 L586.18,66.9 L588.2,66.43"/>
</g>
<rect x="399.6" y="17.8" width="276.8" height="192.6" fill="none" stroke="#333" stroke-width="1.2"/>
<path d="M468.8,210.4 v-3.5 M538.02,210.4 v-3.5 M607.24,210.4 v-3.5 M399.6,114.1 h4 M399.6,162.25 h4 M399.6,65.95 h4" stroke="#333" stroke-width="1.1" fill="none"/>
<text font-family="Liberation Serif, serif" font-size="13.4" fill="#111" stroke="#111" stroke-width="0.2" text-anchor="end" transform="translate(395.9,22.5) scale(1.0,1.08)" xml:space="preserve">100</text>
<text font-family="Liberation Serif, serif" font-size="13.4" fill="#111" stroke="#111" stroke-width="0.2" text-anchor="end" transform="translate(395.9,70.65) scale(1.0,1.08)" xml:space="preserve">0</text>
<text font-family="Liberation Serif, serif" font-size="13.4" fill="#111" stroke="#111" stroke-width="0.2" text-anchor="end" transform="translate(395.9,118.8) scale(1.0,1.08)" xml:space="preserve">-100</text>
<text font-family="Liberation Serif, serif" font-size="13.4" fill="#111" stroke="#111" stroke-width="0.2" text-anchor="end" transform="translate(395.9,166.95) scale(1.0,1.08)" xml:space="preserve">-200</text>
<text font-family="Liberation Serif, serif" font-size="13.4" fill="#111" stroke="#111" stroke-width="0.2" text-anchor="end" transform="translate(395.9,215.1) scale(1.0,1.08)" xml:space="preserve">-300</text>
<text font-family="Liberation Serif, serif" font-size="13.4" fill="#111" stroke="#111" stroke-width="0.2" text-anchor="middle" transform="translate(399.58,226) scale(1.0,1.08)" xml:space="preserve">-0.2</text>
<text font-family="Liberation Serif, serif" font-size="13.4" fill="#111" stroke="#111" stroke-width="0.2" text-anchor="middle" transform="translate(468.8,226) scale(1.0,1.08)" xml:space="preserve">0.0</text>
<text font-family="Liberation Serif, serif" font-size="13.4" fill="#111" stroke="#111" stroke-width="0.2" text-anchor="middle" transform="translate(538.02,226) scale(1.0,1.08)" xml:space="preserve">0.2</text>
<text font-family="Liberation Serif, serif" font-size="13.4" fill="#111" stroke="#111" stroke-width="0.2" text-anchor="middle" transform="translate(607.24,226) scale(1.0,1.08)" xml:space="preserve">0.4</text>
<text font-family="Liberation Serif, serif" font-size="13.4" fill="#111" stroke="#111" stroke-width="0.2" text-anchor="middle" transform="translate(676.46,226) scale(1.0,1.08)" xml:space="preserve">0.6</text>
<text font-family="Liberation Serif, serif" font-size="15.6" fill="#111" stroke="#111" stroke-width="0.2" transform="translate(510.8,240.3) scale(1.0,1.04)" xml:space="preserve">Voltage  (V)</text>
<text font-family="Liberation Serif, serif" font-size="15.5" fill="#111" stroke="#111" stroke-width="0.2" text-anchor="middle" transform="translate(364.8,124.3) rotate(-90)" xml:space="preserve">Current (nA)</text>
<text font-family="Liberation Serif, serif" font-size="15.8" fill="#111" stroke="#111" stroke-width="0.2" font-weight="bold" transform="translate(357,12) scale(1.0,1.05)" xml:space="preserve">b)</text>
<g fill="none" stroke-width="1"><g stroke="#a3a352"><rect x="600.3" y="123.9" width="4.8" height="4.8"/></g><g stroke="#ff4a4a"><circle cx="602.7" cy="142.9" r="2.75"/></g><g stroke="#ff4aff"><path d="M602.9,156 L606.3,161.6 L599.5,161.6Z"/></g><g stroke="#5050ff"><path d="M603.1,179.2 L606.5,173.6 L599.7,173.6Z"/></g></g><path d="M596.3,190.8 H618.6" stroke="#111" stroke-width="1.2"/>
<text font-family="Liberation Serif, serif" font-size="13.6" fill="#111" stroke="#111" stroke-width="0.2" transform="translate(616.9,129.6) scale(1.0,1.08)" xml:space="preserve">120 nm</text>
<text font-family="Liberation Serif, serif" font-size="13.6" fill="#111" stroke="#111" stroke-width="0.2" transform="translate(616.9,146.3) scale(1.0,1.08)" xml:space="preserve">180 nm</text>
<text font-family="Liberation Serif, serif" font-size="13.6" fill="#111" stroke="#111" stroke-width="0.2" transform="translate(619.2,162.5) scale(1.0,1.08)" xml:space="preserve">240 nm</text>
<text font-family="Liberation Serif, serif" font-size="13.6" fill="#111" stroke="#111" stroke-width="0.2" transform="translate(619.2,178.8) scale(1.0,1.08)" xml:space="preserve">300 nm</text>
<text font-family="Liberation Serif, serif" font-size="13.6" fill="#111" stroke="#111" stroke-width="0.2" transform="translate(623.4,193.7) scale(1.0,1.08)" xml:space="preserve">Fit</text>
<g fill="none" stroke-linejoin="round">
<path d="M50.19,418.1 L76.86,418.1 L78.71,310.84 L80.45,309.07 L82.2,307.95 L83.94,307.09 L85.69,306.39 L87.44,305.69 L89.18,305.32 L90.93,305.1 L92.67,304.89 L94.42,304.68 L96.17,304.46 L97.91,304.35 L99.66,304.35 L101.4,304.35 L103.15,304.35 L104.9,304.35 L106.64,304.35 L107.61,304.35 L109.16,418.1 L135.06,418.1 L136.91,304.51 L138.65,304.44 L140.4,304.26 L142.14,304.4 L143.89,304.55 L145.64,304.35 L147.38,304.48 L149.13,304.07 L150.87,303.58 L152.62,304.18 L154.37,304.19 L156.11,303.78 L157.86,303.8 L159.6,303.87 L161.35,304.22 L163.1,303.9 L164.84,303.64 L165.81,303.88 L167.36,418.1 L193.26,418.1 L195.11,304.2 L196.85,304.65 L198.6,304.32 L200.35,304.81 L202.09,304.58 L203.84,304.76 L205.58,304.18 L207.33,304.53 L209.08,303.99 L210.82,304.02 L212.57,304.13 L214.31,304.93 L216.06,304.24 L217.81,304.06 L219.55,304 L221.3,304.57 L223.04,304.2 L224.01,304.04 L225.56,418.1 L251.46,418.1 L253.31,304.51 L255.05,304.87 L256.8,304.83 L258.55,304.2 L260.29,304.86 L262.04,304.6 L263.78,304.3 L265.53,304.82 L267.28,304.67 L269.02,304.6 L270.77,304.62 L272.51,305.08 L274.26,304.63 L276.01,304.19 L277.75,305.21 L279.5,304.37 L281.24,304.63 L282.21,304.67 L283.76,418.1 L311.41,418.1" stroke="#1f9797" stroke-width="1.5"/>
<path d="M50.19,418.1 L76.86,418.1 L78.71,453.22 L80.45,453.37 L82.2,452.38 L83.94,452.75 L85.69,453.37 L87.44,452.87 L89.18,452.64 L90.93,452.86 L92.67,452.52 L94.42,452.74 L96.17,452.45 L97.91,452.16 L99.66,452.87 L101.4,452.55 L103.15,452.76 L104.9,452.55 L106.64,453 L107.61,452.59 L109.16,418.1 L135.06,418.1 L136.91,452.9 L138.65,452.96 L140.4,452.68 L142.14,452.17 L143.89,451.97 L145.64,452.72 L147.38,452.43 L149.13,451.83 L150.87,452.67 L152.62,452.06 L154.37,451.87 L156.11,451.34 L157.86,451.49 L159.6,451.81 L161.35,451.8 L163.1,451.74 L164.84,451.11 L165.81,451.64 L167.36,418.1 L193.26,418.1 L195.11,451.95 L196.85,452.07 L198.6,451.99 L200.35,451.73 L202.09,451.86 L203.84,451.86 L205.58,452.15 L207.33,451.75 L209.08,451.88 L210.82,451.3 L212.57,451.46 L214.31,451.68 L216.06,451.43 L217.81,451.77 L219.55,451.28 L221.3,451.64 L223.04,451.44 L224.01,451.64 L225.56,418.1 L251.46,418.1 L253.31,451.64 L255.05,452.05 L256.8,451.45 L258.55,452.12 L260.29,452.21 L262.04,451.58 L263.78,451.76 L265.53,451.37 L267.28,450.63 L269.02,451.68 L270.77,451.59 L272.51,451.29 L274.26,451.17 L276.01,451.4 L277.75,451.4 L279.5,451.08 L281.24,451.14 L282.21,451.32 L283.76,418.1 L311.41,418.1" stroke="#1f9797" stroke-width="1.5"/>
<path d="M50.19,418.1 L76.86,418.1 L78.71,345.01 L80.45,344.01 L82.2,343.02 L83.94,342.5 L85.69,342.12 L87.44,341.74 L89.18,341.45 L90.93,341.27 L92.67,341.1 L94.42,340.92 L96.17,340.74 L97.91,340.67 L99.66,340.6 L101.4,340.52 L103.15,340.45 L104.9,340.38 L106.64,340.31 L107.61,340.27 L109.16,418.1 L135.06,418.1 L136.91,341.85 L138.65,341.72 L140.4,341.35 L142.14,341.11 L143.89,341.04 L145.64,340.68 L147.38,340.64 L149.13,340.25 L150.87,340.2 L152.62,340.08 L154.37,340.05 L156.11,339.9 L157.86,340.05 L159.6,339.88 L161.35,339.64 L163.1,339.92 L164.84,339.53 L165.81,339.63 L167.36,418.1 L193.26,418.1 L195.11,340.58 L196.85,340.62 L198.6,340.13 L200.35,340.17 L202.09,339.81 L203.84,339.75 L205.58,339.84 L207.33,339.37 L209.08,339.24 L210.82,339.34 L212.57,339.28 L214.31,339.2 L216.06,339.24 L217.81,338.93 L219.55,339.11 L221.3,339.02 L223.04,339.1 L224.01,339 L225.56,418.1 L251.46,418.1 L253.31,340.27 L255.05,340.16 L256.8,340.07 L258.55,339.59 L260.29,339.61 L262.04,339.33 L263.78,339.33 L265.53,339.3 L267.28,339.15 L269.02,339.08 L270.77,338.93 L272.51,338.91 L274.26,338.84 L276.01,338.93 L277.75,338.82 L279.5,338.49 L281.24,338.77 L282.21,338.68 L283.76,418.1 L311.41,418.1" stroke="#1a1aff" stroke-width="1.5"/>
<path d="M50.19,418.1 L76.86,418.1 L78.71,441.04 L80.45,441.23 L82.2,441.19 L83.94,441.17 L85.69,441.51 L87.44,441.46 L89.18,441.57 L90.93,441.73 L92.67,441.55 L94.42,441.67 L96.17,441.7 L97.91,441.81 L99.66,441.73 L101.4,441.84 L103.15,441.82 L104.9,441.93 L106.64,441.94 L107.61,441.83 L109.16,418.1 L135.06,418.1 L136.91,441.2 L138.65,441.13 L140.4,441.35 L142.14,441.33 L143.89,441.4 L145.64,441.48 L147.38,441.53 L149.13,441.45 L150.87,441.57 L152.62,441.59 L154.37,441.6 L156.11,441.51 L157.86,441.57 L159.6,441.61 L161.35,441.71 L163.1,441.8 L164.84,441.58 L165.81,441.67 L167.36,418.1 L193.26,418.1 L195.11,441.36 L196.85,441.26 L198.6,441.37 L200.35,441.3 L202.09,441.28 L203.84,441.28 L205.58,441.27 L207.33,441.4 L209.08,441.21 L210.82,441.47 L212.57,441.27 L214.31,441.31 L216.06,441.27 L217.81,441.18 L219.55,441.21 L221.3,441.46 L223.04,441.52 L224.01,441.36 L225.56,418.1 L251.46,418.1 L253.31,441.04 L255.05,440.98 L256.8,441.17 L258.55,441.09 L260.29,441.03 L262.04,441.28 L263.78,441.33 L265.53,441.12 L267.28,441.15 L269.02,441.19 L270.77,441.17 L272.51,441.26 L274.26,441.33 L276.01,441.21 L277.75,441.29 L279.5,441.35 L281.24,441.15 L282.21,441.2 L283.76,418.1 L311.41,418.1" stroke="#1a1aff" stroke-width="1.5"/>
<path d="M50.19,418.1 L76.86,418.1 L78.71,365.42 L80.45,365.7 L82.2,364.57 L83.94,364.15 L85.69,363.93 L87.44,363.72 L89.18,363.51 L90.93,363.34 L92.67,363.28 L94.42,363.21 L96.17,363.15 L97.91,363.09 L99.66,363.02 L101.4,362.96 L103.15,362.89 L104.9,362.83 L106.64,362.77 L107.61,362.73 L109.16,418.1 L135.06,418.1 L136.91,364 L138.65,363.82 L140.4,363.59 L142.14,363.6 L143.89,363.41 L145.64,363.31 L147.38,363.17 L149.13,362.92 L150.87,362.94 L152.62,362.7 L154.37,362.62 L156.11,362.34 L157.86,362.71 L159.6,362.37 L161.35,362.46 L163.1,362.43 L164.84,362.6 L165.81,362.41 L167.36,418.1 L193.26,418.1 L195.11,363.05 L196.85,362.97 L198.6,362.7 L200.35,362.69 L202.09,362.57 L203.84,362.52 L205.58,362.24 L207.33,362.31 L209.08,362.51 L210.82,362.26 L212.57,362.36 L214.31,362.48 L216.06,362.09 L217.81,361.82 L219.55,361.96 L221.3,362.1 L223.04,362.06 L224.01,361.94 L225.56,418.1 L251.46,418.1 L253.31,362.73 L255.05,362.48 L256.8,362.49 L258.55,362.41 L260.29,362.33 L262.04,362.24 L263.78,362.06 L265.53,362.03 L267.28,362.01 L269.02,362.11 L270.77,361.86 L272.51,361.97 L274.26,361.71 L276.01,361.99 L277.75,361.82 L279.5,361.79 L281.24,361.95 L282.21,361.78 L283.76,418.1 L311.41,418.1" stroke="#9a9a28" stroke-width="1.5"/>
<path d="M50.19,418.1 L76.86,418.1 L78.71,431.23 L80.45,431.18 L82.2,431.31 L83.94,431.59 L85.69,431.56 L87.44,431.68 L89.18,432.04 L90.93,431.84 L92.67,431.93 L94.42,431.97 L96.17,432.13 L97.91,432.1 L99.66,432.12 L101.4,432.02 L103.15,432.13 L104.9,432.17 L106.64,432.03 L107.61,432.18 L109.16,418.1 L135.06,418.1 L136.91,431.55 L138.65,431.67 L140.4,431.73 L142.14,431.93 L143.89,431.67 L145.64,431.78 L147.38,431.84 L149.13,431.91 L150.87,432 L152.62,432.03 L154.37,432.1 L156.11,432.13 L157.86,432.13 L159.6,432.01 L161.35,432.11 L163.1,432.18 L164.84,432.23 L165.81,432.18 L167.36,418.1 L193.26,418.1 L195.11,431.71 L196.85,431.78 L198.6,431.59 L200.35,431.71 L202.09,431.77 L203.84,431.82 L205.58,431.9 L207.33,431.82 L209.08,431.74 L210.82,431.87 L212.57,431.86 L214.31,431.87 L216.06,431.84 L217.81,432.01 L219.55,431.88 L221.3,431.94 L223.04,431.78 L224.01,431.86 L225.56,418.1 L251.46,418.1 L253.31,431.39 L255.05,431.5 L256.8,431.41 L258.55,431.35 L260.29,431.55 L262.04,431.61 L263.78,431.56 L265.53,431.6 L267.28,431.72 L269.02,431.6 L270.77,431.46 L272.51,431.69 L274.26,431.7 L276.01,431.79 L277.75,431.67 L279.5,431.82 L281.24,431.81 L282.21,431.71 L283.76,418.1 L311.41,418.1" stroke="#9a9a28" stroke-width="1.5"/>
<path d="M50.19,418.1 L76.86,418.1 L78.71,386.14 L80.45,385.82 L82.2,386.32 L83.94,385.83 L85.69,385.71 L87.44,386 L89.18,385.92 L90.93,385.57 L92.67,386.07 L94.42,386.16 L96.17,386.33 L97.91,385.99 L99.66,385.65 L101.4,385.76 L103.15,386.21 L104.9,386.19 L106.64,386.11 L107.61,385.99 L109.16,418.1 L135.06,418.1 L136.91,385.99 L138.65,385.9 L140.4,386 L142.14,385.88 L143.89,385.85 L145.64,385.98 L147.38,385.9 L149.13,385.83 L150.87,385.89 L152.62,385.74 L154.37,385.41 L156.11,385.7 L157.86,385.83 L159.6,386.23 L161.35,385.74 L163.1,386.29 L164.84,386.16 L165.81,385.83 L167.36,418.1 L193.26,418.1 L195.11,385.99 L196.85,385.76 L198.6,385.78 L200.35,385.97 L202.09,386.32 L203.84,385.99 L205.58,386.05 L207.33,385.73 L209.08,385.33 L210.82,385.81 L212.57,386.04 L214.31,386.12 L216.06,385.85 L217.81,385.88 L219.55,386.1 L221.3,385.8 L223.04,386.1 L224.01,385.83 L225.56,418.1 L251.46,418.1 L253.31,385.99 L255.05,385.7 L256.8,385.7 L258.55,385.68 L260.29,386.03 L262.04,385.78 L263.78,385.92 L265.53,385.97 L267.28,385.95 L269.02,386.17 L270.77,386.19 L272.51,385.66 L274.26,385.88 L276.01,385.78 L277.75,385.59 L279.5,386.24 L281.24,386.01 L282.21,385.83 L283.76,418.1 L311.41,418.1" stroke="#a01818" stroke-width="1.5"/>
<path d="M50.19,418.1 L76.86,418.1 L78.71,427.28 L80.45,427.3 L82.2,427.31 L83.94,427.42 L85.69,427.31 L87.44,427.42 L89.18,427.58 L90.93,427.57 L92.67,427.43 L94.42,427.48 L96.17,427.72 L97.91,427.43 L99.66,427.51 L101.4,427.45 L103.15,427.62 L104.9,427.62 L106.64,427.7 L107.61,427.59 L109.16,418.1 L135.06,418.1 L136.91,427.12 L138.65,426.91 L140.4,427.21 L142.14,427.07 L143.89,427.31 L145.64,427.26 L147.38,427.46 L149.13,427.36 L150.87,427.26 L152.62,427.49 L154.37,427.28 L156.11,427.37 L157.86,427.51 L159.6,427.47 L161.35,427.47 L163.1,427.44 L164.84,427.48 L165.81,427.43 L167.36,418.1 L193.26,418.1 L195.11,427.28 L196.85,427.39 L198.6,427.38 L200.35,427.48 L202.09,427.53 L203.84,427.44 L205.58,427.38 L207.33,427.63 L209.08,427.51 L210.82,427.59 L212.57,427.64 L214.31,427.48 L216.06,427.62 L217.81,427.44 L219.55,427.66 L221.3,427.55 L223.04,427.61 L224.01,427.59 L225.56,418.1 L251.46,418.1 L253.31,426.96 L255.05,427.09 L256.8,427.01 L258.55,427.13 L260.29,427.1 L262.04,427.21 L263.78,427.34 L265.53,427.29 L267.28,427.3 L269.02,427.24 L270.77,427.45 L272.51,427.38 L274.26,427.56 L276.01,427.35 L277.75,427.53 L279.5,427.6 L281.24,427.44 L282.21,427.43 L283.76,418.1 L311.41,418.1" stroke="#a01818" stroke-width="1.5"/>
</g>
<rect x="41.7" y="276.3" width="276.5" height="187.2" fill="none" stroke="#666" stroke-width="1.3"/>
<path d="M46.6,463.5 v-3.5 M104.8,463.5 v-3.5 M163,463.5 v-3.5 M221.2,463.5 v-3.5 M279.4,463.5 v-3.5 M41.7,299.45 h3.6 M41.7,339 h3.6 M41.7,378.55 h3.6 M41.7,418.1 h3.6 M41.7,457.65 h3.6" stroke="#555" stroke-width="1.1" fill="none"/>
<text font-family="Liberation Serif, serif" font-size="13.0" fill="#111" stroke="#111" stroke-width="0.2" text-anchor="end" transform="translate(37.4,304.25) scale(1.0,1.07)" xml:space="preserve">750</text>
<text font-family="Liberation Serif, serif" font-size="13.0" fill="#111" stroke="#111" stroke-width="0.2" text-anchor="end" transform="translate(37.4,343.8) scale(1.0,1.07)" xml:space="preserve">500</text>
<text font-family="Liberation Serif, serif" font-size="13.0" fill="#111" stroke="#111" stroke-width="0.2" text-anchor="end" transform="translate(37.4,383.35) scale(1.0,1.07)" xml:space="preserve">250</text>
<text font-family="Liberation Serif, serif" font-size="13.0" fill="#111" stroke="#111" stroke-width="0.2" text-anchor="end" transform="translate(37.4,422.9) scale(1.0,1.07)" xml:space="preserve">0</text>
<text font-family="Liberation Serif, serif" font-size="13.0" fill="#111" stroke="#111" stroke-width="0.2" text-anchor="end" transform="translate(37.4,462.45) scale(1.0,1.07)" xml:space="preserve">-250</text>
<text font-family="Liberation Serif, serif" font-size="13.0" fill="#111" stroke="#111" stroke-width="0.2" text-anchor="middle" transform="translate(46.6,478.2) scale(1.0,1.07)" xml:space="preserve">0</text>
<text font-family="Liberation Serif, serif" font-size="13.0" fill="#111" stroke="#111" stroke-width="0.2" text-anchor="middle" transform="translate(104.8,478.2) scale(1.0,1.07)" xml:space="preserve">60</text>
<text font-family="Liberation Serif, serif" font-size="13.0" fill="#111" stroke="#111" stroke-width="0.2" text-anchor="middle" transform="translate(163,478.2) scale(1.0,1.07)" xml:space="preserve">120</text>
<text font-family="Liberation Serif, serif" font-size="13.0" fill="#111" stroke="#111" stroke-width="0.2" text-anchor="middle" transform="translate(221.2,478.2) scale(1.0,1.07)" xml:space="preserve">180</text>
<text font-family="Liberation Serif, serif" font-size="13.0" fill="#111" stroke="#111" stroke-width="0.2" text-anchor="middle" transform="translate(279.4,478.2) scale(1.0,1.07)" xml:space="preserve">240</text>
<text font-family="Liberation Serif, serif" font-size="15.1" fill="#111" stroke="#111" stroke-width="0.2" transform="translate(155.2,494.3) scale(1.0,1.04)" xml:space="preserve">Time (s)</text>
<text font-family="Liberation Serif, serif" font-size="15" fill="#111" stroke="#111" stroke-width="0.2" text-anchor="middle" transform="translate(11.2,378.7) rotate(-90)" xml:space="preserve">Current (nA)</text>
<text font-family="Liberation Serif, serif" font-size="15.8" fill="#111" stroke="#111" stroke-width="0.2" font-weight="bold" transform="translate(0.5,276) scale(1.0,1.05)" xml:space="preserve">c)</text>
<g fill="none" stroke-width="1.5"><path d="M43.8,289.5 H66" stroke="#1f9797"/><path d="M105.5,289.5 H127.7" stroke="#1a1aff"/><path d="M163.7,289.5 H186.1" stroke="#9a9a28"/><path d="M229,289.5 H251.4" stroke="#a01818"/></g>
<text font-family="Liberation Serif, serif" font-size="13.2" fill="#111" stroke="#111" stroke-width="0.2" transform="translate(65.7,292.9) scale(1.0,1.1)" xml:space="preserve">120nm</text>
<text font-family="Liberation Serif, serif" font-size="13.2" fill="#111" stroke="#111" stroke-width="0.2" transform="translate(127.3,292.9) scale(1.0,1.1)" xml:space="preserve">180nm</text>
<text font-family="Liberation Serif, serif" font-size="13.2" fill="#111" stroke="#111" stroke-width="0.2" transform="translate(188.2,292.9) scale(1.0,1.1)" xml:space="preserve">240nm</text>
<text font-family="Liberation Serif, serif" font-size="13.2" fill="#111" stroke="#111" stroke-width="0.2" transform="translate(253.9,292.9) scale(1.0,1.1)" xml:space="preserve">300nm</text>
<text font-family="Liberation Serif, serif" font-size="15.8" fill="#111" stroke="#111" stroke-width="0.2" font-weight="bold" transform="translate(362.3,276) scale(1.0,1.05)" xml:space="preserve">d)</text>
<g fill="none" stroke="#333" stroke-width="1.3">
<path d="M408.6,363.6 V305.8 H558.4 M611.9,305.8 H655 V347.6 M655,393.6 V447 H408.6 V383.9"/>
<path d="M463.6,305.8 V365 M463.6,380.5 V447"/>
<path d="M525.4,305.8 V344.5 M525.4,397.2 V447"/>
</g>
<rect x="558.4" y="299.6" width="53.5" height="12.9" fill="#fff" stroke="#333" stroke-width="1.3"/>
<rect x="518.8" y="344.5" width="13.4" height="52.7" fill="#fff" stroke="#333" stroke-width="1.3"/>
<circle cx="408.4" cy="373.8" r="9.9" fill="#fff" stroke="#555" stroke-width="1"/>
<path d="M408.4,380.8 V368" stroke="#111" stroke-width="2.1"/><path d="M404.9,371.2 L408.4,364.6 L411.9,371.2 L408.4,369.2 Z" fill="#111" stroke="#111" stroke-width="0.6" stroke-linejoin="round"/>
<path d="M454.3,365 H472.8 L463.6,379.8 Z" fill="#000"/><path d="M454.3,380.8 H473.5" stroke="#000" stroke-width="2"/>
<path d="M417.8,353 V320" stroke="#333" stroke-width="1.3"/><path d="M415.2,321 L417.8,316.3 L420.4,321 Z" fill="#111"/>
<path d="M606.4,318.4 H567" stroke="#333" stroke-width="1.3"/><path d="M568.5,315.9 L564,318.4 L568.5,320.9" fill="none" stroke="#111" stroke-width="1.3"/>
<path d="M381.6,352.2 L398.6,364.7 M394.47,363.93 L398.6,364.7 L396.64,360.99" fill="none" stroke="#111" stroke-width="1.4"/>
<path d="M380.8,358.9 L397.6,370.1 M393.44,369.52 L397.6,370.1 L395.47,366.48" fill="none" stroke="#111" stroke-width="1.4"/>
<path d="M380.5,366.2 L397.6,378.2 M393.45,377.52 L397.6,378.2 L395.55,374.53" fill="none" stroke="#111" stroke-width="1.4"/>
<circle cx="654.6" cy="351.4" r="3.7" fill="#fff" stroke="#444" stroke-width="1"/>
<circle cx="654.6" cy="389.8" r="3.7" fill="#fff" stroke="#444" stroke-width="1"/>
<text font-family="Liberation Serif, serif" font-size="14.6" fill="#3a3a3a" stroke="#3a3a3a" stroke-width="0" font-style="italic" transform="translate(420.4,347) scale(1.0,1.04)" xml:space="preserve">I</text>
<text font-family="Liberation Serif, serif" font-size="9.6" fill="#222" stroke="#222" stroke-width="0.2" transform="translate(426.4,350.7) scale(1.0,1.02)" xml:space="preserve">ph</text>
<text font-family="Liberation Serif, serif" font-size="14.6" fill="#3a3a3a" stroke="#3a3a3a" stroke-width="0" font-style="italic" transform="translate(469,354.6) scale(1.0,1.04)" xml:space="preserve">D</text>
<text font-family="Liberation Serif, serif" font-size="14.6" fill="#3a3a3a" stroke="#3a3a3a" stroke-width="0" font-style="italic" transform="translate(580.2,292.8) scale(1.0,1.04)" xml:space="preserve">R</text>
<text font-family="Liberation Serif, serif" font-size="8.6" fill="#222" stroke="#222" stroke-width="0.2" font-weight="bold" transform="translate(589.6,295.9) scale(1.0,1.02)" xml:space="preserve">s</text>
<text font-family="Liberation Serif, serif" font-size="14.6" fill="#3a3a3a" stroke="#3a3a3a" stroke-width="0" font-style="italic" transform="translate(579.8,331.8) scale(1.0,1.04)" xml:space="preserve">I</text>
<text font-family="Liberation Serif, serif" font-size="14.6" fill="#3a3a3a" stroke="#3a3a3a" stroke-width="0" font-style="italic" transform="translate(534.6,373.6) scale(1.0,1.04)" xml:space="preserve">R</text>
<text font-family="Liberation Serif, serif" font-size="9.6" fill="#222" stroke="#222" stroke-width="0.2" transform="translate(543.4,377) scale(1.0,1.02)" xml:space="preserve">sh</text>
<text font-family="Liberation Serif, serif" font-size="14.6" fill="#777" stroke="#777" stroke-width="0" font-style="italic" transform="translate(647.6,374.6) scale(1.0,1.04)" xml:space="preserve">V</text>
<text font-family="Liberation Serif, serif" font-size="15.5" fill="#222" stroke="#222" stroke-width="0.2" transform="translate(639,357.6)" xml:space="preserve">+</text>
<text font-family="Liberation Serif, serif" font-size="14" fill="#222" stroke="#222" stroke-width="0.2" font-weight="bold" transform="translate(642.4,393.4)" xml:space="preserve">-</text>
</svg>
</body></html>
